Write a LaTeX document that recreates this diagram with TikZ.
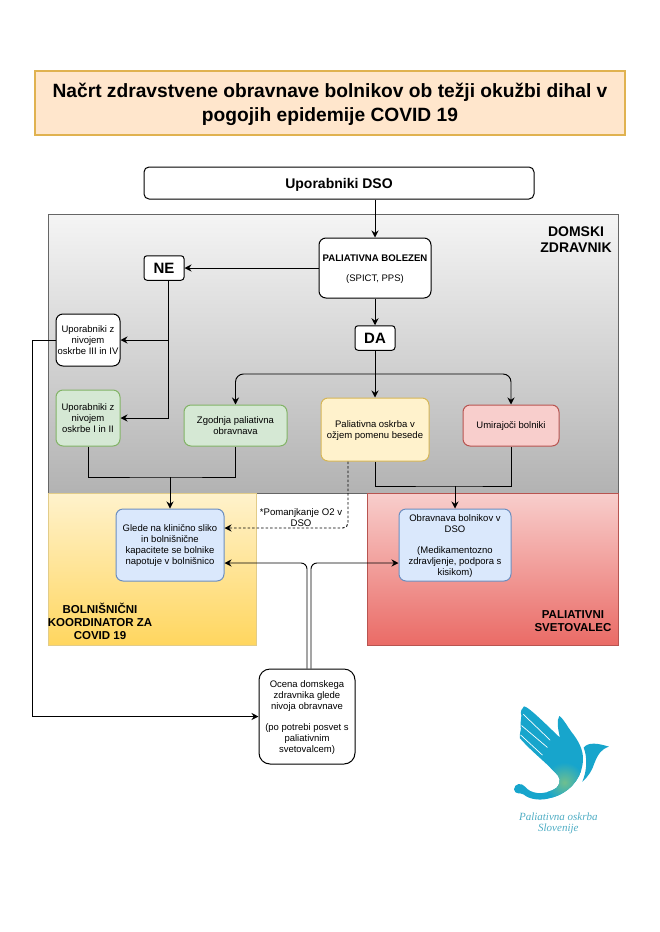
\documentclass[tikz,border=0pt]{standalone}
\usepackage{fontspec}
\setmainfont{Liberation Sans}
\newfontfamily\logofont{Liberation Serif}
\usetikzlibrary{arrows.meta}
\definecolor{greenfill}{HTML}{D5E8D4}
\definecolor{greenline}{HTML}{82B366}
\definecolor{bluefill}{HTML}{DAE8FC}
\definecolor{blueline}{HTML}{6C8EBF}
\definecolor{yellowfill}{HTML}{FFF2CC}
\definecolor{yellowline}{HTML}{D6B656}
\definecolor{redfill}{HTML}{F8CECC}
\definecolor{redline}{HTML}{B85450}
\definecolor{logoblue}{HTML}{17A5CC}
\definecolor{logogreen}{HTML}{6FBF8F}
\definecolor{logotext}{HTML}{4FADC4}
\newcommand{\handpath}{(57,34) .. controls (70,34) and (130,95) .. (165,128)
  .. controls (158,100) and (155,75) .. (163,63)
  .. controls (175,70) and (190,100) .. (205,118)
  .. controls (225,145) and (240,175) .. (232,212)
  .. controls (225,255) and (190,295) .. (140,308)
  .. controls (110,318) and (75,315) .. (55,298)
  .. controls (45,292) and (30,300) .. (27,283)
  .. controls (28,265) and (50,262) .. (60,275)
  .. controls (75,295) and (115,305) .. (155,278)
  .. controls (170,260) and (165,245) .. (150,232)
  .. controls (120,200) and (80,170) .. (45,130)
  .. controls (42,115) and (50,105) .. (47,95)
  .. controls (45,80) and (50,72) .. (49,62)
  .. controls (45,50) and (50,40) .. (57,34) -- cycle}
\begin{document}
\begin{tikzpicture}[x=1pt, y=-1pt, >={Stealth[length=7pt,width=7pt]},
    every node/.append style={font=\fontsize{9.5}{11}\selectfont, align=center, inner sep=0pt},
    conn/.style={draw=black, line width=0.95pt, ->},
    plainline/.style={draw=black, line width=0.95pt},
    stepbox/.style={draw=black, line width=1pt, rounded corners=7pt, fill=white, text depth=-2.5pt},
    answer/.style={stepbox, rounded corners=3pt, text depth=0pt, font=\fontsize{15}{17}\selectfont\bfseries, minimum width=40pt, minimum height=24.5pt},
    greenbox/.style={stepbox, draw=greenline, fill=greenfill},
    bluebox/.style={stepbox, draw=blueline, fill=bluefill, minimum height=72pt},
    lanetitle/.style={font=\fontsize{11.5}{13}\selectfont\bfseries}]
  \useasboundingbox (0,0) rectangle (660,932);

  \node (title) [draw={rgb,255:red,224;green,178;blue,80}, line width=1.2pt, fill={rgb,255:red,255;green,230;blue,204},
    text depth=2pt, minimum width=590pt, minimum height=64pt, font=\fontsize{19.2}{24}\selectfont\bfseries] at (330,103)
    {Načrt zdravstvene obravnave bolnikov ob težji okužbi dihal v\\pogojih epidemije COVID 19};

  \node (domski) [draw=black!60, line width=0.8pt, top color=black!4, bottom color=black!30,
    minimum width=570pt, minimum height=279pt] at (333,353.5) {};
  \node (koordinator) [draw=yellowline!70, line width=0.8pt, top color=yellowfill,
    bottom color={rgb,255:red,255;green,214;blue,95}, minimum width=208pt, minimum height=152pt] at (152,569) {};
  \node (svetovalec) [draw=redline, line width=0.8pt, top color=redfill,
    bottom color={rgb,255:red,234;green,107;blue,102}, minimum width=251pt, minimum height=152pt] at (492.5,569) {};

  \node (domskilabel) [font=\fontsize{14}{16.5}\selectfont\bfseries] at (576,239.5) {DOMSKI\\ZDRAVNIK};
  \node (koordinatorlabel) [lanetitle] at (100,621.5) {BOLNIŠNIČNI\\KOORDINATOR ZA\\COVID 19};
  \node (svetovaleclabel) [lanetitle] at (573,621) {PALIATIVNI\\SVETOVALEC};

  \node (users) [stepbox, rounded corners=5pt, minimum width=390pt, minimum height=32pt,
    font=\fontsize{14}{16}\selectfont\bfseries] at (339,183) {Uporabniki DSO};
  \node (bolezen) [stepbox, minimum width=112pt, minimum height=60pt] at (375,268)
    {\fontsize{9.6}{11}\selectfont\bfseries PALIATIVNA BOLEZEN\\[9pt](SPICT, PPS)};
  \node (ne) [answer] at (164,268) {NE};
  \node (da) [answer] at (375,338) {DA};

  \node (nivoTri) [stepbox, minimum width=64pt, minimum height=52pt] at (88,340) {Uporabniki z\\nivojem\\oskrbe III in IV};
  \node (nivoEna) [greenbox, minimum width=64pt, minimum height=56pt] at (88,418) {Uporabniki z\\nivojem\\oskrbe I in II};
  \node (zgodnja) [greenbox, minimum width=103pt, minimum height=41pt] at (235.5,425.5) {Zgodnja paliativna\\obravnava};
  \node (ozja) [stepbox, draw=yellowline, fill=yellowfill, minimum width=108pt, minimum height=63pt] at (375,429.5) {Paliativna oskrba v\\ožjem pomenu besede};
  \node (umirajoci) [stepbox, draw=redline, fill=redfill, minimum width=96pt, minimum height=41pt] at (511,425.5) {Umirajoči bolniki};

  \node (glede) [bluebox, minimum width=108pt] at (170,545) {Glede na klinično sliko\\in bolnišnične\\kapacitete se bolnike\\napotuje v bolnišnico};
  \node (obravnava) [bluebox, minimum width=112pt] at (455,545) {Obravnava bolnikov v\\DSO\\[10pt](Medikamentozno\\zdravljenje, podpora s\\kisikom)};
  \node (ocena) [stepbox, rounded corners=11pt, minimum width=96pt, minimum height=95pt] at (307,716.5) {Ocena domskega\\zdravnika glede\\nivoja obravnave\\[10pt](po potrebi posvet s\\paliativnim\\svetovalcem)};

  \coordinate (razcepDa) at (375,374);
  \coordinate (razcepNe) at (168,340);
  \coordinate (spojLevo) at (170,477);
  \coordinate (spojDesno) at (455,486);
  \coordinate (robLevo) at (32,340);

  \draw[conn] (users.south -| bolezen.north) -- (bolezen.north);
  \draw[conn] (bolezen) -- (da);
  \draw[conn] (bolezen) -- (ne);
  \draw[conn] (da) -- (ozja);
  \draw[conn, rounded corners=8pt] (razcepDa) -| (zgodnja.north);
  \draw[conn, rounded corners=8pt] (razcepDa) -| (umirajoci.north);
  \draw[conn] (ne.south -| razcepNe) |- (nivoEna.east);
  \draw[conn] (razcepNe) -- (nivoTri.east);
  \draw[conn] (nivoTri.west) -- (robLevo) |- (ocena.west);
  \draw[plainline] (nivoEna.south) |- (spojLevo) -| (zgodnja.south);
  \draw[conn] (spojLevo) -- (glede.north);
  \draw[plainline] (ozja.south) |- (spojDesno) -| (umirajoci.south);
  \draw[conn] (spojDesno) -- (obravnava.north);
  \draw[conn, dash pattern=on 2.5pt off 2pt, rounded corners=5pt] (ozja.south -| 348,0) |- (glede.east |- 0,528);
  \draw[conn, rounded corners=6pt] (ocena.north) |- (glede.east |- 0,563);
  \draw[conn, rounded corners=6pt] ([xshift=4pt]ocena.north) |- (obravnava.west |- 0,563);
  \node (pomanjkanje) [font=\fontsize{9.6}{11}\selectfont] at (301,517.5) {*Pomanjkanje O2 v\\DSO};

  \begin{scope}[shift={(505,695)}, x=0.3333pt, y=-0.3333pt]
    \fill[logoblue] \handpath;
    \begin{scope}
      \clip \handpath;
      \shade[inner color=logogreen, outer color=logoblue] (178,262) circle (60);
    \end{scope}
    \fill[logoblue]
      (236,158) .. controls (250,140) and (280,145) .. (312,155)
      .. controls (290,162) and (280,175) .. (268,205)
      .. controls (262,225) and (250,245) .. (232,260)
      .. controls (247,225) and (247,185) .. (236,158) -- cycle;
    \draw[white, line width=0.7pt, line cap=round] (55,58) -- (135,135) (50,92) -- (127,157) (47,120) -- (112,180);
    \node (logotext) [font=\logofont\fontsize{11}{11}\selectfont\itshape, text=logotext] at (160,386) {Paliativna oskrba\\Slovenije};
  \end{scope}
\end{tikzpicture}
\end{document}
